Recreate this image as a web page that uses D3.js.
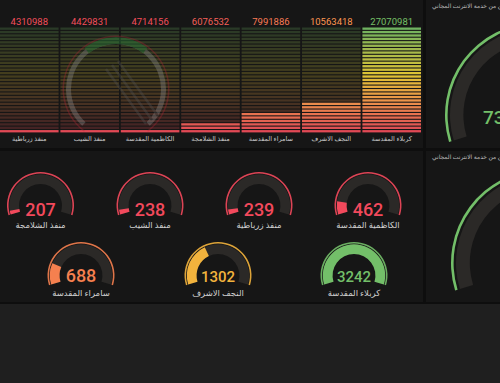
<!DOCTYPE html>
<html><head><meta charset="utf-8">
<script src="https://cdn.jsdelivr.net/npm/d3@7"></script>
<style>
html,body{margin:0;padding:0;background:#1f1f1f;overflow:hidden}
svg{display:block}
text{font-family:Roboto, Inter, "DejaVu Sans", sans-serif}
</style></head><body>
<svg id="c" width="500" height="383"></svg>
<script>
const barCategories = ["منفذ زرباطية","منفذ الشيب","الكاظمية المقدسة","منفذ الشلامجة","سامراء المقدسة","النجف الاشرف","كربلاء المقدسة"];
const barValues = [4310988, 4429831, 4714156, 6076532, 7991886, 10563418, 27070981];
const gaugeCategories = ["منفذ الشلامجة","منفذ الشيب","منفذ زرباطية","الكاظمية المقدسة","سامراء المقدسة","النجف الاشرف","كربلاء المقدسة"];
const gaugeValues = [207, 238, 239, 462, 688, 1302, 3242];
const gaugeMin = 100;
const gaugeThresholds = [600, 1000, 3000];
const gaugeColors = ["#f2495c", "#f5804f", "#f2b33d", "#73bf69"];
const sideTitle = "عدد المستفيدين من خدمة الانترنت المجاني";
const sideValueText = "73";

(function(){
const svg = d3.select("#c");
const RED="#f2495c", GREEN="#73bf69";

// panels
const panels = [[0,0,423,148],[426,0,80,148],[0,151,423,151],[426,151,80,151]];
svg.append("rect").attr("x",0).attr("y",0).attr("width",500).attr("height",304).attr("fill","#0e0e0e");
svg.selectAll("rect.p").data(panels).join("rect").attr("class","p")
  .attr("x",d=>d[0]).attr("y",d=>d[1]).attr("width",d=>d[2]).attr("height",d=>d[3]).attr("fill","#161616");

// ---- LCD bar gauge ----
const N = 31, yTop = 27, yBot = 133, pitch = (yBot-yTop)/N;
const x = d3.scaleBand().domain(barCategories).range([0,421]).paddingInner(0.03);
const cellScale = d3.scaleLinear().domain([d3.min(barValues), d3.max(barValues)]).range([0,N]);
const grad = d3.scaleLinear().domain([0,0.3,0.55,1]).range([RED,"#ff9e50","#f0d238",GREEN]).interpolate(d3.interpolateRgb);
const bars = svg.append("g");
barCategories.forEach((c,k)=>{
  const v = barValues[k];
  const lit = Math.max(1, Math.ceil(cellScale(v)-1e-9));
  const cells = d3.range(N);
  bars.append("g").selectAll("rect").data(cells).join("rect")
    .attr("x", x(c)).attr("width", x.bandwidth())
    .attr("y", i => yBot - (i+1)*pitch + 0.5)
    .attr("height", pitch-1.1)
    .attr("fill", i => grad((i+0.5)/N))
    .attr("opacity", i => i < lit ? 0.92 : 0.21);
  svg.append("text").attr("x", x(c)+x.bandwidth()/2).attr("y", 25)
    .attr("text-anchor","middle").attr("font-size",9.5)
    .attr("fill", grad(Math.min(1,(lit-0.5)/N))).text(v);
  svg.append("text").attr("x", x(c)+x.bandwidth()/2).attr("y", 140.5)
    .attr("text-anchor","middle").attr("font-size",6.5).attr("fill","#c9c9c9").text(c);
});

// faint watermark emblem
const wm = svg.append("g").attr("transform","translate(116,89)").attr("opacity",0.33);
wm.append("path").attr("d", d3.arc()({innerRadius:45,outerRadius:50,startAngle:-2.4,endAngle:2.4})).attr("fill","#9a9a9a");
wm.append("path").attr("d", d3.arc()({innerRadius:45,outerRadius:52,startAngle:-0.65,endAngle:0.65})).attr("fill","#2f9a45");
wm.append("path").attr("d", d3.arc()({innerRadius:52,outerRadius:53.5,startAngle:-2.5,endAngle:2.5})).attr("fill","#b02838");
wm.append("path").attr("d","M-10,-20 L30,35 M-4,-24 L36,31 M2,-28 L42,27").attr("stroke","#555").attr("stroke-width",2.5).attr("fill","none");

// ---- small gauges ----
const A = 107*Math.PI/180;
const gColor = d3.scaleThreshold().domain(gaugeThresholds).range(gaugeColors);
const gAngle = d3.scaleLinear().domain([gaugeMin, d3.max(gaugeValues)]).range([-A, A]);
const centers = [[40.5,205.5],[150,205.5],[259,205.5],[368,205.5],[81,275.5],[218,275.5],[354,275.5]];
const R = 33.5;
const arc = d3.arc();
gaugeValues.forEach((v,i)=>{
  const [cx,cy] = centers[i];
  const col = gColor(v);
  const g = svg.append("g").attr("transform",`translate(${cx},${cy})`);
  g.append("path").attr("d", arc({innerRadius:R-1.6,outerRadius:R,startAngle:-A,endAngle:A})).attr("fill",col).attr("opacity",0.9);
  g.append("path").attr("d", arc({innerRadius:R*0.64,outerRadius:R-2.3,startAngle:-A,endAngle:A})).attr("fill","#2b2927");
  g.append("path").attr("d", arc({innerRadius:R*0.64,outerRadius:R-2.3,startAngle:-A,endAngle:gAngle(v)})).attr("fill",col);
  const fs = String(v).length > 3 ? 15 : 18;
  g.append("text").attr("x",0).attr("y", i<4 ? 10 : 6.5).attr("text-anchor","middle")
    .attr("font-size",fs).attr("font-weight",500).attr("fill",col).text(v);
  g.append("text").attr("x",0).attr("y", i<4 ? 22.5 : 20.5).attr("text-anchor","middle")
    .attr("font-size",8.5).attr("fill","#d0d0d0").text(gaugeCategories[i]);
});

// ---- right-side big gauges ----
[[537,115,92,4],[545,263,94,155]].forEach(([cx,cy,r,ty],k)=>{
  svg.append("text").attr("x",432).attr("y",ty+3.5).attr("font-size",6).attr("fill","#bdbdbd").text(sideTitle);
  const g = svg.append("g").attr("transform",`translate(${cx},${cy})`);
  g.append("path").attr("d", arc({innerRadius:r-2.6,outerRadius:r,startAngle:-A,endAngle:A})).attr("fill",GREEN);
  g.append("path").attr("d", arc({innerRadius:r*0.8,outerRadius:r-5,startAngle:-A,endAngle:A})).attr("fill","#2b2927");
  if(k===0){
    svg.append("text").attr("x",483).attr("y",123.5).attr("font-size",19).attr("font-weight",500).attr("fill",GREEN).text(sideValueText);
  }
});
})();
</script>
</body></html>
